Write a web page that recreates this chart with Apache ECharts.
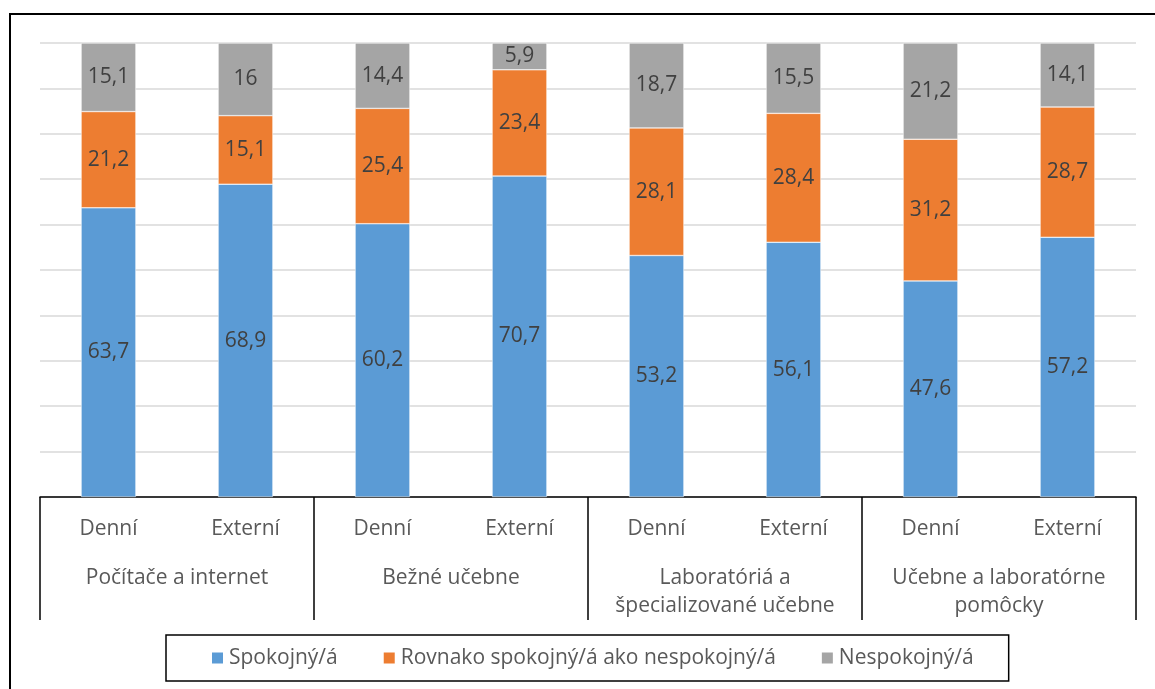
<!DOCTYPE html>
<html><head><meta charset="utf-8">
<script src="https://cdn.jsdelivr.net/npm/echarts@6/dist/echarts.min.js"></script>
<style>
html,body{margin:0;padding:0;background:#fff;}
#c{width:1155px;height:689px;position:absolute;left:0;top:0;}
#frame{position:absolute;left:9px;top:13px;width:1160px;height:700px;border-left:2px solid #000;border-top:2px solid #000;pointer-events:none;}
</style></head>
<body>
<div id="c"></div>
<div id="frame"></div>
<script>
const groups = ['Počítače a internet', 'Bežné učebne', 'Laboratóriá a\nšpecializované učebne', 'Učebne a laboratórne\npomôcky'];
const subCategories = ['Denní', 'Externí', 'Denní', 'Externí', 'Denní', 'Externí', 'Denní', 'Externí'];
const seriesNames = ['Spokojný/á', 'Rovnako spokojný/á ako nespokojný/á', 'Nespokojný/á'];
const spokojny = [63.7, 68.9, 60.2, 70.7, 53.2, 56.1, 47.6, 57.2];
const rovnako = [21.2, 15.1, 25.4, 23.4, 28.1, 28.4, 31.2, 28.7];
const nespokojny = [15.1, 16, 14.4, 5.9, 18.7, 15.5, 21.2, 14.1];
const colors = ['#5B9BD5', '#ED7D31', '#A5A5A5'];

const FONT = 'Open Sans';
const chart = echarts.init(document.getElementById('c'), null, {renderer: 'canvas'});
const mk = (name, data, color) => ({
  name, type: 'bar', stack: 'total', data, barWidth: '40%',
  itemStyle: {color, borderColor: '#fff', borderWidth: 0.5},
  label: {show: true, position: 'inside', color: '#404040', fontFamily: FONT, fontSize: 21,
    formatter: p => String(p.value).replace('.', ',')},
  emphasis: {disabled: true}
});
chart.setOption({
  animation: false,
  grid: {left: 40, right: 19, top: 43, bottom: 192, containLabel: false},
  xAxis: [
    {type: 'category', data: subCategories, position: 'bottom',
     axisLine: {show: true, lineStyle: {color: '#000', width: 1.5}},
     axisTick: {show: false},
     axisLabel: {color: '#595959', fontFamily: FONT, fontSize: 21, margin: 22, interval: 0}},
    {type: 'category', data: groups, position: 'bottom',
     axisLine: {show: false},
     axisTick: {show: true, interval: 0, length: 123, lineStyle: {color: '#000', width: 1.5}},
     axisLabel: {color: '#595959', fontFamily: FONT, fontSize: 21, margin: 67, interval: 0, lineHeight: 28}}
  ],
  yAxis: {type: 'value', min: 0, max: 100, interval: 10,
    axisLabel: {show: false}, axisLine: {show: false}, axisTick: {show: false},
    splitLine: {lineStyle: {color: '#d9d9d9', width: 1.5}}},
  legend: {data: seriesNames, left: 166, top: 635, padding: [11, 35, 11, 44], itemGap: 44,
    itemWidth: 13, itemHeight: 13, icon: 'rect', borderColor: '#000', borderWidth: 1.5,
    textStyle: {color: '#595959', fontFamily: FONT, fontSize: 21, lineHeight: 24}},
  series: [mk(seriesNames[0], spokojny, colors[0]), mk(seriesNames[1], rovnako, colors[1]), mk(seriesNames[2], nespokojny, colors[2])]
});
</script>
</body></html>
